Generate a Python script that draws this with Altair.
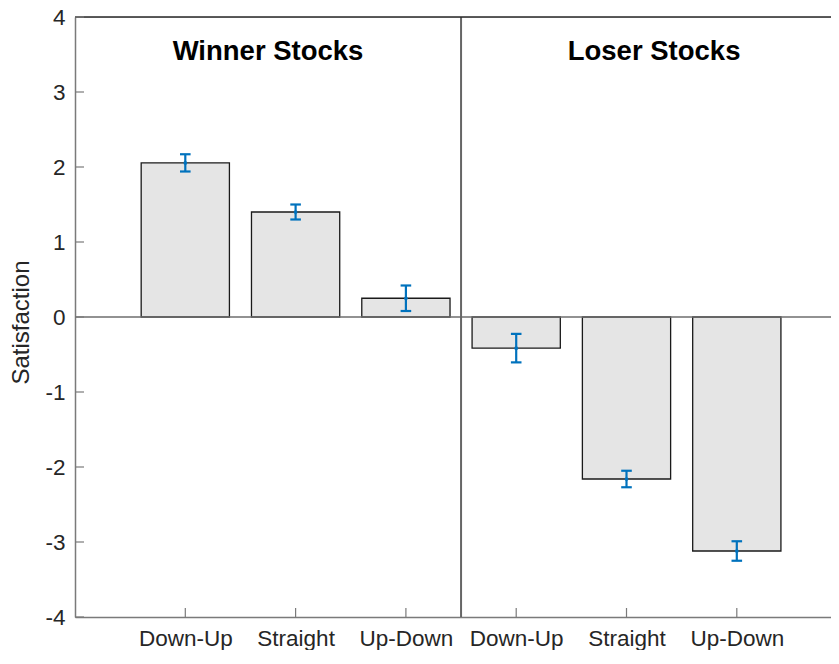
import altair as alt
import pandas as pd

# ---- data ----
groups = ["Winner", "Winner", "Winner", "Loser", "Loser", "Loser"]
patterns = ["Down-Up", "Straight", "Up-Down", "Down-Up", "Straight", "Up-Down"]
positions = [1, 2, 3, 4, 5, 6]
means = [2.055, 1.40, 0.25, -0.415, -2.16, -3.12]
errors = [0.115, 0.10, 0.17, 0.19, 0.11, 0.13]
y_ticks = [-4, -3, -2, -1, 0, 1, 2, 3, 4]
panel_titles = ["Winner Stocks", "Loser Stocks"]
title_x = [1.75, 5.25]
title_y = [3.43, 3.43]
divider_x = [3.5]

W, H = 756, 600
FONT = "Liberation Sans"
TXT = "#262626"
AX = "#7a7a7a"

df = pd.DataFrame({"group": groups, "pattern": patterns, "pos": positions,
                   "mean": means, "err": errors})
df_yt = pd.DataFrame({"v": y_ticks})
df_xt = pd.DataFrame({"pos": positions})
df_t = pd.DataFrame({"t": panel_titles, "x": title_x, "y": title_y})
df_div = pd.DataFrame({"x": divider_x})

xs = alt.Scale(domain=[0, 6.854], nice=False, zero=False)
ys = alt.Scale(domain=[-4, 4], nice=False)

label_expr = "[" + ",".join("'%s'" % p for p in patterns) + "][datum.value - 1]"

XA = alt.Axis(values=positions, labelExpr=label_expr, title="",
              ticks=False, grid=False, domainColor=AX, domainWidth=1.5,
              labelFont=FONT, labelFontSize=22.5, labelColor=TXT,
              labelPadding=10, labelFlush=False, labelOverlap=False)
YA = alt.Axis(values=y_ticks, labelExpr="datum.value + ''", title="Satisfaction",
              ticks=False, grid=False, domainColor=AX, domainWidth=1.5,
              labelFont=FONT, labelFontSize=22.5, labelColor=TXT,
              labelPadding=10, labelFlush=False,
              titleFont=FONT, titleFontSize=24, titleFontWeight="normal",
              titleColor=TXT, titleAngle=270, titleBaseline="middle",
              titleAlign="center", titleX=-54, titleY=305)


def X(field=None, datum=None):
    if datum is not None:
        return alt.X(datum=datum, scale=xs, axis=XA)
    return alt.X(field, scale=xs, axis=XA)


def Y(field=None, datum=None):
    if datum is not None:
        return alt.Y(datum=datum, scale=ys, axis=YA)
    return alt.Y(field, scale=ys, axis=YA)


base = alt.Chart(df)

bars = base.transform_calculate(
    x0="datum.pos - 0.4", x1="datum.pos + 0.4"
).mark_bar(color="#e5e5e5", stroke="#1a1a1a", strokeWidth=1.3).encode(
    x=X("x0:Q"), x2="x1:Q", y=Y("mean:Q"), y2=alt.datum(0),
)

zero = alt.Chart(df_div).mark_rule(color="#6e6e6e", strokeWidth=1.5).encode(
    y=Y(datum=0))

divider = alt.Chart(df_div).mark_rule(color="#666666", strokeWidth=2).encode(
    x=X("x:Q"))

top = alt.Chart(df_div).mark_rule(color="#262626", strokeWidth=1.3).encode(
    y=Y(datum=4))

err_line = base.transform_calculate(
    lo="datum.mean - datum.err", hi="datum.mean + datum.err"
).mark_rule(color="#0072BD", strokeWidth=2.2).encode(
    x=X("pos:Q"), y=Y("lo:Q"), y2="hi:Q",
)

cap_lo = base.transform_calculate(
    lo="datum.mean - datum.err", c0="datum.pos - 0.048", c1="datum.pos + 0.048"
).mark_rule(color="#0072BD", strokeWidth=2.2).encode(
    x=X("c0:Q"), x2="c1:Q", y=Y("lo:Q"),
)

cap_hi = base.transform_calculate(
    hi="datum.mean + datum.err", c0="datum.pos - 0.048", c1="datum.pos + 0.048"
).mark_rule(color="#0072BD", strokeWidth=2.2).encode(
    x=X("c0:Q"), x2="c1:Q", y=Y("hi:Q"),
)

dots = base.mark_point(filled=True, color="#0072BD", size=14, opacity=1).encode(
    x=X("pos:Q"), y=Y("mean:Q"),
)

yticks = alt.Chart(df_yt).mark_rule(color=AX, strokeWidth=1.2).encode(
    y=Y("v:Q"), x=X(datum=0), x2=alt.datum(0.082),
)

xticks = alt.Chart(df_xt).mark_rule(color=AX, strokeWidth=1.2).encode(
    x=X("pos:Q"), y=Y(datum=-4), y2=alt.datum(-3.88),
)

titles = alt.Chart(df_t).mark_text(font=FONT, fontSize=27.5, fontWeight="bold",
                                   color="#000000", align="center",
                                   baseline="alphabetic").encode(
    x=X("x:Q"), y=Y("y:Q"), text="t:N",
)

chart = alt.layer(
    bars, zero, divider, top, yticks, xticks, err_line, cap_lo, cap_hi, dots, titles
).properties(
    width=W, height=H,
    autosize=alt.AutoSizeParams(type="none"),
    padding={"left": 67, "top": 9, "right": 0, "bottom": 33},
).configure_view(strokeWidth=0).configure(background="white")

chart.save("out.html", embed_options={"renderer": "svg", "actions": False})
